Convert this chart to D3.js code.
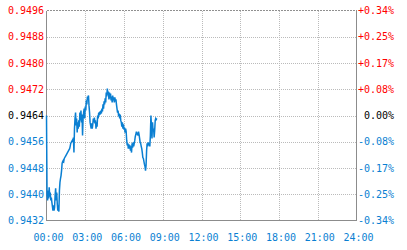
<!DOCTYPE html>
<html>
<head>
<meta charset="utf-8">
<script src="https://cdn.jsdelivr.net/npm/d3@7"></script>
<style>
  html, body { margin: 0; padding: 0; background: #fff; }
  svg { display: block; }
  text { font-family: "DejaVu Sans Mono", monospace; font-size: 10px; }
</style>
</head>
<body>
<svg id="chart" width="407" height="250"></svg>
<script>
// previous close, the 0.00% line
var prevClose = 0.9464;

// left axis tick values
var priceTicks = [0.9496, 0.9488, 0.9480, 0.9472, 0.9464, 0.9456, 0.9448, 0.9440, 0.9432];

// time tick labels (hours)
var hourTicks = [0, 3, 6, 9, 12, 15, 18, 21, 24];

// minutes between samples of the price series
var stepMinutes = 2.5;

// price series from 00:00, one value every stepMinutes
var prices = [
  0.94640, 0.94396, 0.94381, 0.94411, 0.94387, 0.94421, 0.94393, 0.94405, 0.94381, 0.94390,
  0.94375, 0.94363, 0.94350, 0.94366, 0.94350, 0.94360, 0.94396, 0.94418, 0.94381, 0.94405,
  0.94372, 0.94350, 0.94366, 0.94347, 0.94411, 0.94436, 0.94448, 0.94457, 0.94472, 0.94494,
  0.94500, 0.94503, 0.94500, 0.94509, 0.94512, 0.94515, 0.94518, 0.94521, 0.94524, 0.94527,
  0.94530, 0.94533, 0.94536, 0.94539, 0.94546, 0.94555, 0.94558, 0.94561, 0.94564, 0.94561,
  0.94573, 0.94527, 0.94600, 0.94631, 0.94649, 0.94610, 0.94631, 0.94588, 0.94619, 0.94600,
  0.94625, 0.94606, 0.94649, 0.94625, 0.94655, 0.94619, 0.94643, 0.94579, 0.94631, 0.94649,
  0.94661, 0.94631, 0.94667, 0.94655, 0.94686, 0.94674, 0.94698, 0.94692, 0.94701, 0.94670,
  0.94649, 0.94619, 0.94610, 0.94600, 0.94616, 0.94600, 0.94613, 0.94631, 0.94619, 0.94634,
  0.94616, 0.94625, 0.94600, 0.94619, 0.94606, 0.94640, 0.94631, 0.94649, 0.94640, 0.94652,
  0.94643, 0.94655, 0.94646, 0.94661, 0.94652, 0.94674, 0.94661, 0.94683, 0.94674, 0.94692,
  0.94680, 0.94710, 0.94698, 0.94722, 0.94704, 0.94713, 0.94689, 0.94710, 0.94692, 0.94707,
  0.94686, 0.94698, 0.94680, 0.94701, 0.94686, 0.94695, 0.94680, 0.94695, 0.94683, 0.94689,
  0.94674, 0.94661, 0.94649, 0.94655, 0.94637, 0.94646, 0.94631, 0.94643, 0.94625, 0.94619,
  0.94606, 0.94619, 0.94600, 0.94613, 0.94597, 0.94603, 0.94588, 0.94600, 0.94591, 0.94564,
  0.94549, 0.94555, 0.94539, 0.94552, 0.94539, 0.94549, 0.94533, 0.94546, 0.94527, 0.94555,
  0.94542, 0.94558, 0.94546, 0.94555, 0.94564, 0.94576, 0.94582, 0.94591, 0.94582, 0.94588,
  0.94579, 0.94591, 0.94582, 0.94570, 0.94558, 0.94555, 0.94546, 0.94539, 0.94527, 0.94512,
  0.94509, 0.94500, 0.94491, 0.94485, 0.94472, 0.94488, 0.94533, 0.94555, 0.94546, 0.94558,
  0.94549, 0.94555, 0.94546, 0.94579, 0.94640, 0.94610, 0.94570, 0.94619, 0.94594, 0.94600,
  0.94573, 0.94594, 0.94625, 0.94631, 0.94628, 0.94631
];

var svg = d3.select("#chart");
var plotL = 46.5, plotR = 356.5, plotT = 10.5, plotB = 220.5;

var red = "#ff0000", blue = "#0a7fd2", black = "#000";

var x = d3.scaleLinear().domain([0, 24 * 60]).range([plotL, plotR]);
var y = d3.scaleLinear().domain([0.9432, 0.9496]).range([plotB, plotT]);

function colorFor(v) {
    if (Math.abs(v - prevClose) < 1e-9) return black;
    return v > prevClose ? red : blue;
}

// grid
var grid = svg.append("g").attr("shape-rendering", "crispEdges");
grid.selectAll("line.h")
    .data(priceTicks.slice(1, -1))
    .enter().append("line")
    .attr("x1", plotL).attr("x2", plotR)
    .attr("y1", function(d) { return Math.round(y(d)) + 0.5; })
    .attr("y2", function(d) { return Math.round(y(d)) + 0.5; })
    .attr("stroke", "#bbbbbb")
    .attr("stroke-dasharray", "1,1");

grid.selectAll("line.v")
    .data(hourTicks.slice(1, -1))
    .enter().append("line")
    .attr("x1", function(d) { return Math.round(x(d * 60)) + 0.5; })
    .attr("x2", function(d) { return Math.round(x(d * 60)) + 0.5; })
    .attr("y1", plotT).attr("y2", plotB)
    .attr("stroke", "#bbbbbb")
    .attr("stroke-dasharray", "1,1");

// frame
grid.append("line")
    .attr("x1", plotL).attr("x2", plotR).attr("y1", plotT).attr("y2", plotT)
    .attr("stroke", "#909090").attr("stroke-dasharray", "2,1");
grid.append("path")
    .attr("d", "M" + plotL + "," + plotT + "V" + plotB + "H" + plotR + "V" + plotT)
    .attr("fill", "none").attr("stroke", "#8c8c8c");

// price line
var line = d3.line()
    .x(function(d, i) { return x(i * stepMinutes); })
    .y(function(d) { return y(d); });

svg.append("path")
    .datum(prices)
    .attr("d", line)
    .attr("fill", "none")
    .attr("stroke", blue)
    .attr("stroke-width", 1.5)
    .attr("stroke-linejoin", "miter");

// left labels
svg.selectAll("text.price")
    .data(priceTicks)
    .enter().append("text")
    .attr("x", 44)
    .attr("y", function(d) { return y(d); })
    .attr("dy", "0.35em")
    .attr("text-anchor", "end")
    .attr("fill", colorFor)
    .text(function(d) { return d.toFixed(4); });

// right labels
var pct = d3.format("+.2f");
svg.selectAll("text.pct")
    .data(priceTicks)
    .enter().append("text")
    .attr("x", 394)
    .attr("y", function(d) { return y(d); })
    .attr("dy", "0.35em")
    .attr("text-anchor", "end")
    .attr("fill", colorFor)
    .text(function(d) {
        var p = (d - prevClose) / prevClose * 100;
        if (Math.abs(p) < 1e-9) return "0.00%";
        return pct(p).replace("\u2212", "-") + "%";
    });

// time labels
svg.selectAll("text.time")
    .data(hourTicks)
    .enter().append("text")
    .attr("x", function(d) { return x(d * 60) + 2; })
    .attr("y", 241)
    .attr("text-anchor", "middle")
    .attr("fill", blue)
    .text(function(d) { return (d < 10 ? "0" : "") + d + ":00"; });
</script>
</body>
</html>
